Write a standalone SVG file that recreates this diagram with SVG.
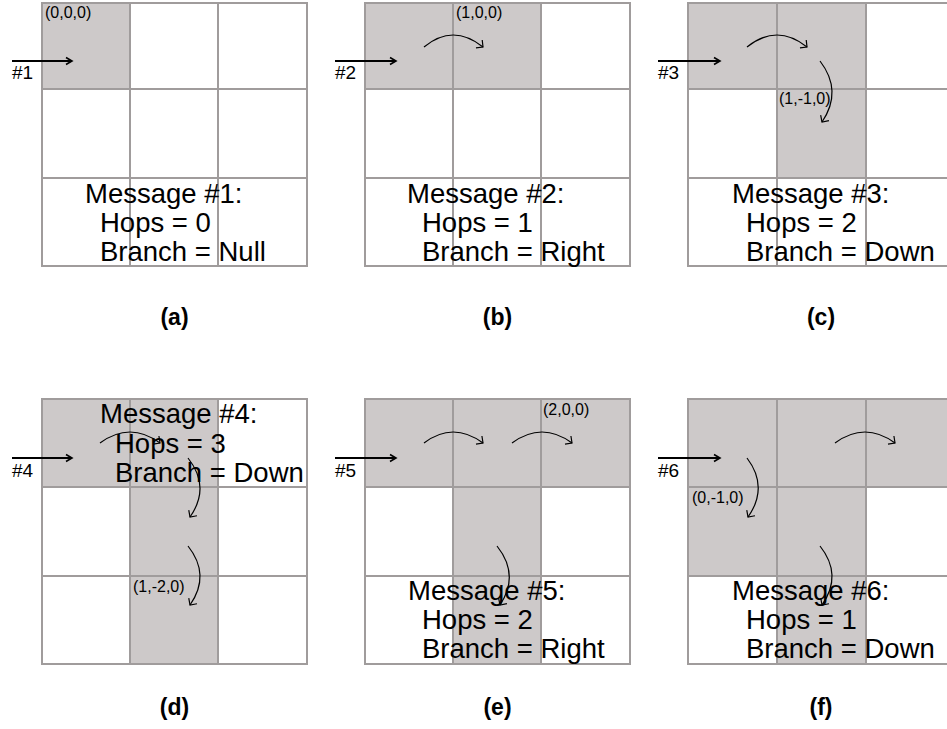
<svg xmlns="http://www.w3.org/2000/svg" width="947" height="729" viewBox="0 0 947 729">
<defs>
<marker id="ahs" markerWidth="10" markerHeight="10" refX="7" refY="5" orient="auto" markerUnits="userSpaceOnUse"><path d="M1,1.5 L7,5 L1,8.5" fill="none" stroke="#000" stroke-width="1.6"/></marker>
<marker id="ahc" markerWidth="14" markerHeight="14" refX="7" refY="7" orient="auto" markerUnits="userSpaceOnUse"><path d="M2,2 L7,7 L2,12" fill="none" stroke="#000" stroke-width="1.2"/></marker>
</defs>
<style>
.sh{fill:#cdc9c9;stroke:none}
.cell{fill:none;stroke:#a09c9c;stroke-width:2}
.msg{font-family:"Liberation Sans",Arial,sans-serif;font-size:27.5px;fill:#000}
.lbl{font-family:"Liberation Sans",Arial,sans-serif;font-size:19px;fill:#000}
.co{font-family:"Liberation Sans",Arial,sans-serif;font-size:16px;fill:#000}
.cap{font-family:"Liberation Sans",Arial,sans-serif;font-size:23px;font-weight:bold;fill:#000;text-anchor:middle}
.st{fill:none;stroke:#000;stroke-width:2;marker-end:url(#ahs)}
.arc{fill:none;stroke:#000;stroke-width:1.2;marker-end:url(#ahc)}
</style>
<rect width="947" height="729" fill="#fff"/>

<g id="panel-a">
<rect class="sh" x="42" y="3" width="88" height="86"/>
<rect class="cell" x="42" y="3" width="88" height="86"/><rect class="cell" x="130" y="3" width="88" height="86"/><rect class="cell" x="218" y="3" width="89" height="86"/>
<rect class="cell" x="42" y="89" width="88" height="89"/><rect class="cell" x="130" y="89" width="88" height="89"/><rect class="cell" x="218" y="89" width="89" height="89"/>
<rect class="cell" x="42" y="178" width="88" height="88"/><rect class="cell" x="130" y="178" width="88" height="88"/><rect class="cell" x="218" y="178" width="89" height="88"/>
<text class="co" x="45" y="18">(0,0,0)</text>
<text class="lbl" x="12" y="79">#1</text>
<text class="msg" x="85" y="203">Message #1:</text>
<text class="msg" x="100" y="232">Hops = 0</text>
<text class="msg" x="100" y="261">Branch = Null</text>
<text class="cap" x="174.5" y="325">(a)</text>
</g>

<g id="panel-b">
<rect class="sh" x="365" y="3" width="176" height="86"/>
<rect class="cell" x="365" y="3" width="88" height="86"/><rect class="cell" x="453" y="3" width="88" height="86"/><rect class="cell" x="541" y="3" width="89" height="86"/>
<rect class="cell" x="365" y="89" width="88" height="89"/><rect class="cell" x="453" y="89" width="88" height="89"/><rect class="cell" x="541" y="89" width="89" height="89"/>
<rect class="cell" x="365" y="178" width="88" height="88"/><rect class="cell" x="453" y="178" width="88" height="88"/><rect class="cell" x="541" y="178" width="89" height="88"/>
<text class="co" x="456" y="18">(1,0,0)</text>
<text class="lbl" x="335" y="79">#2</text>
<text class="msg" x="407" y="203">Message #2:</text>
<text class="msg" x="422" y="232">Hops = 1</text>
<text class="msg" x="422" y="261">Branch = Right</text>
<text class="cap" x="497.5" y="325">(b)</text>
</g>

<g id="panel-c">
<rect class="sh" x="688" y="3" width="178" height="86"/>
<rect class="sh" x="777" y="89" width="89" height="89"/>
<rect class="cell" x="688" y="3" width="89" height="86"/><rect class="cell" x="777" y="3" width="89" height="86"/><rect class="cell" x="866" y="3" width="88" height="86"/>
<rect class="cell" x="688" y="89" width="89" height="89"/><rect class="cell" x="777" y="89" width="89" height="89"/><rect class="cell" x="866" y="89" width="88" height="89"/>
<rect class="cell" x="688" y="178" width="89" height="88"/><rect class="cell" x="777" y="178" width="89" height="88"/><rect class="cell" x="866" y="178" width="88" height="88"/>
<text class="co" x="779" y="104">(1,-1,0)</text>
<text class="lbl" x="658" y="79">#3</text>
<text class="msg" x="732" y="203">Message #3:</text>
<text class="msg" x="746" y="232">Hops = 2</text>
<text class="msg" x="746" y="261">Branch = Down</text>
<text class="cap" x="821" y="325">(c)</text>
</g>

<g id="panel-d">
<rect class="sh" x="42" y="399" width="176" height="88"/>
<rect class="sh" x="130" y="487" width="88" height="177"/>
<rect class="cell" x="42" y="399" width="88" height="88"/><rect class="cell" x="130" y="399" width="88" height="88"/><rect class="cell" x="218" y="399" width="89" height="88"/>
<rect class="cell" x="42" y="487" width="88" height="89"/><rect class="cell" x="130" y="487" width="88" height="89"/><rect class="cell" x="218" y="487" width="89" height="89"/>
<rect class="cell" x="42" y="576" width="88" height="88"/><rect class="cell" x="130" y="576" width="88" height="88"/><rect class="cell" x="218" y="576" width="89" height="88"/>
<text class="co" x="133" y="592">(1,-2,0)</text>
<text class="lbl" x="12" y="477">#4</text>
<text class="msg" x="100" y="423">Message #4:</text>
<text class="msg" x="115" y="453">Hops = 3</text>
<text class="msg" x="115" y="482">Branch = Down</text>
<text class="cap" x="174.5" y="715">(d)</text>
</g>

<g id="panel-e">
<rect class="sh" x="365" y="399" width="265" height="88"/>
<rect class="sh" x="453" y="487" width="88" height="177"/>
<rect class="cell" x="365" y="399" width="88" height="88"/><rect class="cell" x="453" y="399" width="88" height="88"/><rect class="cell" x="541" y="399" width="89" height="88"/>
<rect class="cell" x="365" y="487" width="88" height="89"/><rect class="cell" x="453" y="487" width="88" height="89"/><rect class="cell" x="541" y="487" width="89" height="89"/>
<rect class="cell" x="365" y="576" width="88" height="88"/><rect class="cell" x="453" y="576" width="88" height="88"/><rect class="cell" x="541" y="576" width="89" height="88"/>
<text class="co" x="543" y="415">(2,0,0)</text>
<text class="lbl" x="335" y="477">#5</text>
<text class="msg" x="408" y="600">Message #5:</text>
<text class="msg" x="422" y="629">Hops = 2</text>
<text class="msg" x="422" y="658">Branch = Right</text>
<text class="cap" x="497.5" y="715">(e)</text>
</g>

<g id="panel-f">
<rect class="sh" x="688" y="399" width="266" height="88"/>
<rect class="sh" x="688" y="487" width="178" height="89"/>
<rect class="sh" x="777" y="576" width="89" height="88"/>
<rect class="cell" x="688" y="399" width="89" height="88"/><rect class="cell" x="777" y="399" width="89" height="88"/><rect class="cell" x="866" y="399" width="88" height="88"/>
<rect class="cell" x="688" y="487" width="89" height="89"/><rect class="cell" x="777" y="487" width="89" height="89"/><rect class="cell" x="866" y="487" width="88" height="89"/>
<rect class="cell" x="688" y="576" width="89" height="88"/><rect class="cell" x="777" y="576" width="89" height="88"/><rect class="cell" x="866" y="576" width="88" height="88"/>
<text class="co" x="692" y="503">(0,-1,0)</text>
<text class="lbl" x="658" y="477">#6</text>
<text class="msg" x="732" y="600">Message #6:</text>
<text class="msg" x="746" y="629">Hops = 1</text>
<text class="msg" x="746" y="658">Branch = Down</text>
<text class="cap" x="821" y="715">(f)</text>
</g>

<g id="connectors">
<line class="st" x1="12" y1="61" x2="72" y2="61"/>
<line class="st" x1="335" y1="61" x2="396" y2="61"/>
<line class="st" x1="658" y1="61" x2="720" y2="61"/>
<line class="st" x1="12" y1="458" x2="72" y2="458"/>
<line class="st" x1="335" y1="458" x2="396" y2="458"/>
<line class="st" x1="658" y1="458" x2="720" y2="458"/>
<path class="arc" d="M424,47 Q453,23 483,47"/>
<path class="arc" d="M747,47 Q777,23 807,47"/>
<path class="arc" d="M820,61 Q843,91 822,122"/>
<path class="arc" d="M100,443 Q130,421 160,443"/>
<path class="arc" d="M188,458 Q211,487 190,517"/>
<path class="arc" d="M188,546 Q211,575 190,605"/>
<path class="arc" d="M424,443 Q453,421 483,443"/>
<path class="arc" d="M512,443 Q542,421 572,443"/>
<path class="arc" d="M497,546 Q520,575 500,605"/>
<path class="arc" d="M835,443 Q865,421 895,443"/>
<path class="arc" d="M747,458 Q769,487 748,517"/>
<path class="arc" d="M820,546 Q843,575 822,605"/>
</g>
</svg>
